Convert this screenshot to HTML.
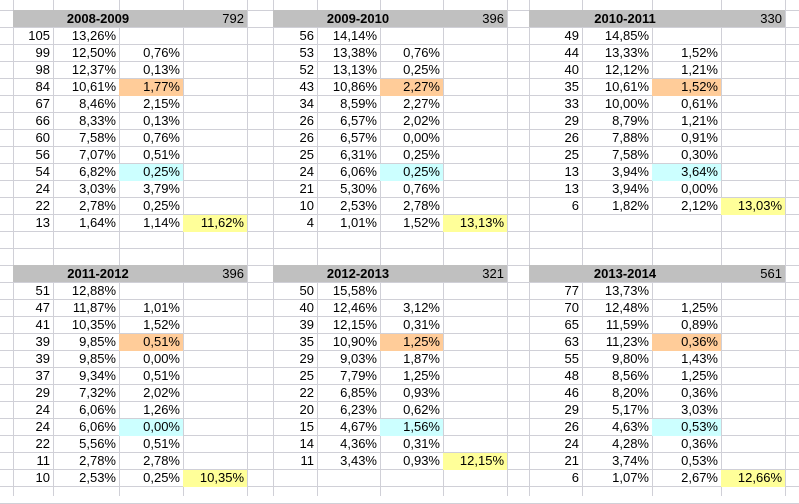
<!DOCTYPE html>
<html><head><meta charset="utf-8"><style>
body{margin:0;width:799px;height:496px;overflow:hidden;background:#fff;font-family:"Liberation Sans",Arial,sans-serif;font-size:13px;color:#000;position:relative}
.c{position:absolute;height:17px;line-height:17px;text-align:right;padding-right:3px;box-sizing:border-box;white-space:nowrap}
.vl{position:absolute;top:0;width:1px;height:496px;background:#d0d0d7}
.hl{position:absolute;left:0;width:799px;height:1px;background:#d0d0d7}
.hd{position:absolute;height:17px;background:#c0c0c0}
</style></head><body>
<script>
const colX=[13,53,119,183,247,273,317,380,443,507,529,582,652,721,785];
const rowH=17, top0=10;
const blocks=[
{title:"2008-2009",total:"792",x:[13,53,119,183,247],y:10,rows:[
["105","13,26%",""],["99","12,50%","0,76%"],["98","12,37%","0,13%"],["84","10,61%","1,77%"],["67","8,46%","2,15%"],["66","8,33%","0,13%"],["60","7,58%","0,76%"],["56","7,07%","0,51%"],["54","6,82%","0,25%"],["24","3,03%","3,79%"],["22","2,78%","0,25%"],["13","1,64%","1,14%"]],sum:"11,62%"},
{title:"2009-2010",total:"396",x:[273,317,380,443,507],y:10,rows:[
["56","14,14%",""],["53","13,38%","0,76%"],["52","13,13%","0,25%"],["43","10,86%","2,27%"],["34","8,59%","2,27%"],["26","6,57%","2,02%"],["26","6,57%","0,00%"],["25","6,31%","0,25%"],["24","6,06%","0,25%"],["21","5,30%","0,76%"],["10","2,53%","2,78%"],["4","1,01%","1,52%"]],sum:"13,13%"},
{title:"2010-2011",total:"330",x:[529,582,652,721,785],y:10,rows:[
["49","14,85%",""],["44","13,33%","1,52%"],["40","12,12%","1,21%"],["35","10,61%","1,52%"],["33","10,00%","0,61%"],["29","8,79%","1,21%"],["26","7,88%","0,91%"],["25","7,58%","0,30%"],["13","3,94%","3,64%"],["13","3,94%","0,00%"],["6","1,82%","2,12%"]],sum:"13,03%"},
{title:"2011-2012",total:"396",x:[13,53,119,183,247],y:265,rows:[
["51","12,88%",""],["47","11,87%","1,01%"],["41","10,35%","1,52%"],["39","9,85%","0,51%"],["39","9,85%","0,00%"],["37","9,34%","0,51%"],["29","7,32%","2,02%"],["24","6,06%","1,26%"],["24","6,06%","0,00%"],["22","5,56%","0,51%"],["11","2,78%","2,78%"],["10","2,53%","0,25%"]],sum:"10,35%"},
{title:"2012-2013",total:"321",x:[273,317,380,443,507],y:265,rows:[
["50","15,58%",""],["40","12,46%","3,12%"],["39","12,15%","0,31%"],["35","10,90%","1,25%"],["29","9,03%","1,87%"],["25","7,79%","1,25%"],["22","6,85%","0,93%"],["20","6,23%","0,62%"],["15","4,67%","1,56%"],["14","4,36%","0,31%"],["11","3,43%","0,93%"]],sum:"12,15%"},
{title:"2013-2014",total:"561",x:[529,582,652,721,785],y:265,rows:[
["77","13,73%",""],["70","12,48%","1,25%"],["65","11,59%","0,89%"],["63","11,23%","0,36%"],["55","9,80%","1,43%"],["48","8,56%","1,25%"],["46","8,20%","0,36%"],["29","5,17%","3,03%"],["26","4,63%","0,53%"],["24","4,28%","0,36%"],["21","3,74%","0,53%"],["6","1,07%","2,67%"]],sum:"12,66%"}
];
const B=document.body;
for(let k=-1;k<30;k++){const d=document.createElement('div');d.className='hl';d.style.top=(top0+k*rowH)+'px';

B.appendChild(d);}
colX.forEach(x=>{const d=document.createElement('div');d.className='vl';d.style.left=x+'px';

B.appendChild(d);});
function cell(x1,x2,y,txt,bg,name){const d=document.createElement('div');d.className='c';d.style.left=x1+'px';d.style.width=(x2-x1)+'px';d.style.top=y+'px';
if(bg){d.style.background=bg;d.style.height='17px';d.style.top=(y+1)+'px';d.style.lineHeight='16px';}
d.textContent=txt;

B.appendChild(d);return d;}
blocks.forEach(b=>{
 const x=b.x;
 const h=document.createElement('div');h.className='hd';h.style.left=x[0]+'px';h.style.width=(x[4]-x[0])+'px';h.style.top=(b.y)+'px';
 
 B.appendChild(h);
 const t=cell(x[0],x[3],b.y,b.title,null,'season-title');t.style.textAlign='center';t.style.fontWeight='bold';t.style.paddingRight='0';
 cell(x[3],x[4],b.y,b.total,null,'season-total');
 b.rows.forEach((r,i)=>{
  const y=b.y+(i+1)*rowH;
  cell(x[0],x[1],y,r[0],null,'count-cell');
  cell(x[1],x[2],y,r[1],null,'percent-cell');
  let bg=null; if(i===3)bg='#ffcc99'; if(i===8)bg='#ccffff';
  cell(x[2],x[3],y,r[2],bg,'diff-cell');
  if(i===b.rows.length-1) cell(x[3],x[4],y,b.sum,'#ffff99','sum-cell');
 });
});
</script>
</body></html>
